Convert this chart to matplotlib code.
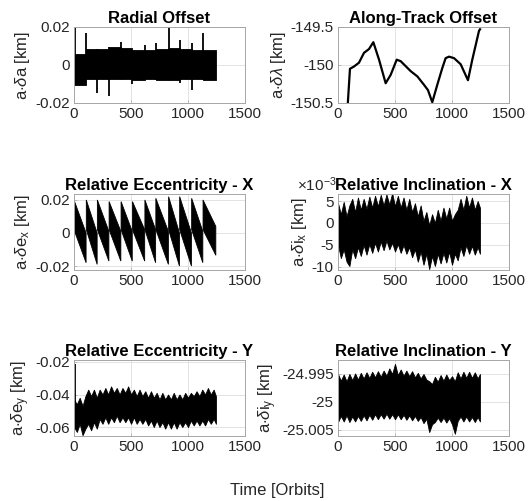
import matplotlib
matplotlib.use("Agg")
import matplotlib.pyplot as plt
import numpy as np

plt.rcParams['font.family'] = ['Liberation Sans', 'DejaVu Sans']
plt.rcParams['axes.unicode_minus'] = False
plt.rcParams['mathtext.fontset'] = 'custom'
plt.rcParams['mathtext.rm'] = 'Liberation Sans'
plt.rcParams['mathtext.it'] = 'Liberation Sans:italic'

# ---------------- data ----------------
# maneuver epochs (segment boundaries) [orbits]
seg_edges = [0, 108, 205, 308, 413, 513, 622, 718, 830, 927, 1032, 1132, 1246]

# Radial offset: per-segment band envelope [km]
rad_upper = [0.0056, 0.0085, 0.0085, 0.0093, 0.0090, 0.0080, 0.0080, 0.0082, 0.0090, 0.0082, 0.0080, 0.0080]
rad_lower = [-0.0105, -0.0075, -0.0075, -0.0072, -0.0072, -0.0078, -0.0075, -0.0077, -0.0080, -0.0075, -0.0075, -0.0078]
rad_spike_x = [6, 108, 205, 308, 413, 513, 622, 718, 830, 927, 1032, 1132]
rad_spike_lo = [-0.0105, -0.0075, -0.0146, -0.0163, -0.0072, -0.0102, -0.0075, -0.0077, -0.0080, -0.0093, -0.0132, -0.0078]
rad_spike_hi = [0.0196, 0.0167, 0.0085, 0.0093, 0.0121, 0.0080, 0.0103, 0.0118, 0.0200, 0.0130, 0.0118, 0.0167]

# Along-track offset [km]
at_x = [82, 105, 140, 184, 228, 272, 310, 360, 418, 462, 515, 550, 637, 696, 754, 789, 827,
        871, 915, 944, 974, 1018, 1076, 1140, 1178, 1237, 1246]
at_y = [-150.6, -150.05, -150.02, -149.97, -149.84, -149.79, -149.70, -149.93, -150.24, -150.13,
        -149.93, -149.95, -150.08, -150.15, -150.26, -150.33, -150.49, -150.26, -150.04, -149.91,
        -149.89, -149.91, -149.99, -150.20, -149.93, -149.55, -149.53]

# Relative eccentricity X: sawtooth band per segment [km]
ecx_up_start = [0.020, 0.020, 0.020, 0.019, 0.019, 0.019, 0.020, 0.021, 0.022, 0.022, 0.021, 0.020]
ecx_up_end = [0.000, 0.000, 0.001, 0.001, 0.001, 0.002, 0.002, 0.001, 0.000, 0.000, 0.001, 0.004]
ecx_lo_start = [0.002, 0.002, 0.002, 0.002, 0.002, 0.002, 0.002, 0.002, 0.002, 0.002, 0.002, 0.002]
ecx_lo_end = [-0.018, -0.019, -0.017, -0.017, -0.017, -0.017, -0.018, -0.019, -0.020, -0.020, -0.018, -0.0135]

# envelope sample epochs for the dense oscillating series [orbits]
env_x = [0, 25, 50, 75, 100, 125, 150, 175, 200, 225, 250, 275, 300, 325, 350, 375, 400, 425,
         450, 475, 500, 525, 550, 575, 600, 625, 650, 675, 700, 725, 750, 775, 800, 825, 850,
         875, 900, 925, 950, 975, 1000, 1025, 1050, 1075, 1100, 1125, 1150, 1175, 1200, 1225, 1245]

# Relative inclination X envelope [1e-3 km]
incx_upper = [4.5, 2.0, 4.8, 1.5, 4.0, 5.5, 2.5, 5.8, 3.0, 5.5, 3.2, 6.0, 3.5, 6.2, 3.8, 6.4, 4.0,
              6.5, 4.2, 6.8, 3.8, 6.2, 3.5, 5.8, 3.0, 5.5, 2.5, 4.5, 1.5, 4.0, 0.5, 2.5, -0.5, 2.0,
              0.0, 3.0, 0.5, 3.5, 1.0, 3.5, 0.5, 2.0, 3.0, 5.5, 3.0, 6.2, 3.5, 5.8, 3.0, 5.0, 3.5]
incx_lower = [-5.0, -8.0, -6.0, -8.8, -9.8, -6.0, -8.0, -5.5, -7.5, -5.0, -7.2, -4.8, -6.8, -4.5,
              -6.5, -4.2, -6.2, -4.0, -6.0, -4.5, -6.5, -4.8, -6.8, -5.0, -7.0, -5.5, -7.8, -6.0,
              -8.8, -6.5, -9.5, -7.0, -10.5, -7.5, -9.8, -7.0, -9.2, -6.8, -9.0, -6.5, -9.5, -7.0,
              -8.5, -5.5, -7.5, -5.0, -7.0, -5.2, -7.2, -5.5, -7.0]

# Relative eccentricity Y envelope [km]
ecy_upper = [-0.043, -0.046, -0.042, -0.047, -0.041, -0.037, -0.041, -0.037, -0.042, -0.037,
             -0.040, -0.036, -0.040, -0.035, -0.039, -0.036, -0.040, -0.036, -0.039, -0.035,
             -0.040, -0.037, -0.041, -0.037, -0.041, -0.038, -0.042, -0.038, -0.042, -0.039,
             -0.043, -0.039, -0.043, -0.040, -0.043, -0.039, -0.043, -0.040, -0.043, -0.039,
             -0.042, -0.039, -0.041, -0.038, -0.041, -0.037, -0.040, -0.036, -0.040, -0.037, -0.041]
ecy_lower = [-0.060, -0.063, -0.058, -0.065, -0.061, -0.058, -0.062, -0.057, -0.061, -0.055,
             -0.058, -0.054, -0.058, -0.054, -0.057, -0.053, -0.057, -0.054, -0.057, -0.054,
             -0.058, -0.054, -0.058, -0.055, -0.058, -0.055, -0.059, -0.056, -0.060, -0.056,
             -0.060, -0.057, -0.061, -0.057, -0.061, -0.057, -0.061, -0.057, -0.060, -0.057,
             -0.060, -0.056, -0.059, -0.056, -0.059, -0.056, -0.059, -0.055, -0.058, -0.055, -0.058]
ecy_spike_x = [6]
ecy_spike_lo = [-0.060]
ecy_spike_hi = [-0.021]

# Relative inclination Y envelope [km]
incy_upper = [-24.9950, -24.9962, -24.9951, -24.9963, -24.9950, -24.9961, -24.9949, -24.9960,
              -24.9948, -24.9958, -24.9947, -24.9957, -24.9946, -24.9956, -24.9945, -24.9955,
              -24.9944, -24.9953, -24.9940, -24.9950, -24.9932, -24.9952, -24.9942, -24.9953,
              -24.9944, -24.9954, -24.9945, -24.9956, -24.9948, -24.9958, -24.9950, -24.9960,
              -24.9963, -24.9968, -24.9955, -24.9964, -24.9952, -24.9962, -24.9951, -24.9961,
              -24.9954, -24.9963, -24.9947, -24.9958, -24.9946, -24.9957, -24.9946, -24.9957,
              -24.9947, -24.9958, -24.9950]
incy_lower = [-25.0036, -25.0025, -25.0035, -25.0024, -25.0036, -25.0026, -25.0035, -25.0025,
              -25.0034, -25.0024, -25.0033, -25.0023, -25.0032, -25.0022, -25.0031, -25.0022,
              -25.0030, -25.0021, -25.0030, -25.0022, -25.0031, -25.0022, -25.0031, -25.0023,
              -25.0032, -25.0024, -25.0033, -25.0025, -25.0034, -25.0027, -25.0038, -25.0030,
              -25.0054, -25.0040, -25.0036, -25.0028, -25.0036, -25.0028, -25.0037, -25.0029,
              -25.0040, -25.0057, -25.0034, -25.0026, -25.0035, -25.0026, -25.0035, -25.0027,
              -25.0036, -25.0027, -25.0035]

titles = ['Radial Offset', 'Along-Track Offset', 'Relative Eccentricity - X',
          'Relative Inclination - X', 'Relative Eccentricity - Y', 'Relative Inclination - Y']
ylabels = [r'a$\cdot\delta$a [km]', r'a$\cdot\delta\lambda$ [km]', r'a$\cdot\delta$e$_\mathregular{x}$ [km]',
           r'a$\cdot\delta$i$_\mathregular{x}$ [km]', r'a$\cdot\delta$e$_\mathregular{y}$ [km]',
           r'a$\cdot\delta$i$_\mathregular{y}$ [km]']
xlabel = 'Time [Orbits]'

# ---------------- figure ----------------
W, H = 529, 501
fig = plt.figure(figsize=(W / 100, H / 100), dpi=100)

def px_axes(l, t, r, b):
    return fig.add_axes([l / W, 1 - b / H, (r - l) / W, (b - t) / H])

boxes = [(74, 27, 245, 103), (338, 27, 509, 103),
         (74, 194, 245, 270), (338, 194, 509, 270),
         (74, 360, 245, 436), (338, 360, 509, 436)]
axes = [px_axes(*b) for b in boxes]

tick_col = '#262626'
TICK_FS = 11
for ax in axes:
    ax.set_xlim(0, 1500)
    ax.set_xticks([0, 500, 1000, 1500])
    ax.grid(True, color='#dedede', lw=0.6)
    ax.set_axisbelow(True)
    for s in ax.spines.values():
        s.set_color('#a6a6a6')
        s.set_linewidth(0.7)
    ax.tick_params(direction='in', length=2.5, width=0.5, colors='#a6a6a6',
                   labelcolor=tick_col, labelsize=TICK_FS, pad=3)

# Radial
ax = axes[0]
for i in range(len(rad_upper)):
    ax.fill_between([seg_edges[i], seg_edges[i + 1]], [rad_lower[i]] * 2, [rad_upper[i]] * 2,
                    facecolor='black', edgecolor='black', lw=0.6)
ax.vlines(rad_spike_x, rad_spike_lo, rad_spike_hi, colors='black', lw=1.3)
ax.set_ylim(-0.02, 0.02)
ax.set_yticks([-0.02, 0, 0.02])
ax.set_yticklabels(['-0.02', '0', '0.02'])

# Along-track
ax = axes[1]
ax.plot(at_x, at_y, color='black', lw=1.6)
ax.set_ylim(-150.5, -149.5)
ax.set_yticks([-150.5, -150, -149.5])
ax.set_yticklabels(['-150.5', '-150', '-149.5'])

# Ecc X
ax = axes[2]
for i in range(len(ecx_up_start)):
    xs = [seg_edges[i], seg_edges[i + 1] - 2, seg_edges[i + 1] - 2, seg_edges[i]]
    ys = [ecx_up_start[i], ecx_up_end[i], ecx_lo_end[i], ecx_lo_start[i]]
    ax.fill(xs, ys, facecolor='black', edgecolor='black', lw=0.6)
ax.set_ylim(-0.0224, 0.0236)
ax.set_yticks([-0.02, 0, 0.02])
ax.set_yticklabels(['-0.02', '0', '0.02'])

# Inc X
ax = axes[3]
ax.fill_between(env_x, np.array(incx_lower) * 1e-3, np.array(incx_upper) * 1e-3,
                facecolor='black', edgecolor='black', lw=0.6)
ax.set_ylim(-0.0107, 0.0066)
ax.set_yticks([-0.01, -0.005, 0, 0.005])
ax.set_yticklabels(['-10', '-5', '0', '5'])
ax.text(-0.24, 1.0, r'$\times$10$^{\mathregular{-3}}$', transform=ax.transAxes,
        fontsize=TICK_FS, color=tick_col, ha='left', va='bottom')

# Ecc Y
ax = axes[4]
ax.fill_between(env_x, ecy_lower, ecy_upper, facecolor='black', edgecolor='black', lw=0.6)
ax.vlines(ecy_spike_x, ecy_spike_lo, ecy_spike_hi, colors='black', lw=1.3)
ax.set_ylim(-0.0655, -0.0188)
ax.set_yticks([-0.06, -0.04, -0.02])
ax.set_yticklabels(['-0.06', '-0.04', '-0.02'])

# Inc Y
ax = axes[5]
ax.fill_between(env_x, incy_lower, incy_upper, facecolor='black', edgecolor='black', lw=0.6)
ax.set_ylim(-25.0061, -24.9925)
ax.set_yticks([-25.005, -25.0, -24.995])
ax.set_yticklabels(['-25.005', '-25', '-24.995'])

for ax, t, yl in zip(axes, titles, ylabels):
    ax.set_title(t, fontsize=12, fontweight='bold', pad=3, color='black')
    ax.set_ylabel(yl, fontsize=12, color=tick_col, labelpad=2)

fig.text(277 / W, 1 - 491 / H, xlabel, ha='center', va='center', fontsize=12, color=tick_col)

fig.savefig('out.png', dpi=100, facecolor='white')
